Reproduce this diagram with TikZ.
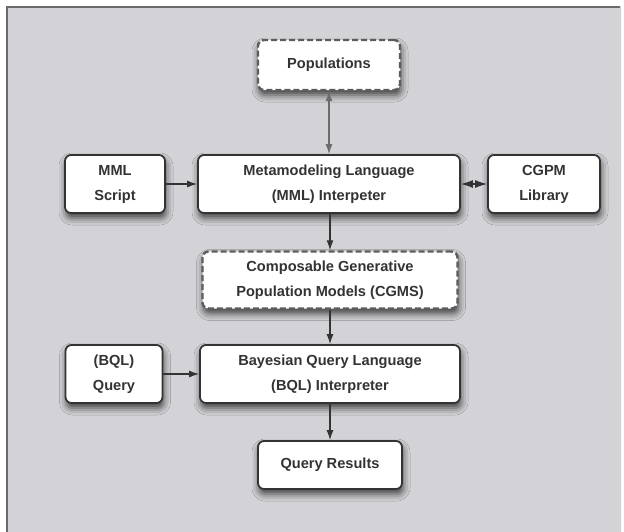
\documentclass[tikz,border=0pt]{standalone}
\usepackage{fontspec}
\setmainfont{Liberation Sans}
\usetikzlibrary{arrows.meta,shadows.blur}
\definecolor{panel}{HTML}{D3D3D7}
\definecolor{frameline}{HTML}{6A6A6C}
\definecolor{ink}{HTML}{333333}
\tikzset{
  box/.style={draw=ink, line width=1.8pt, rounded corners=6pt, fill=white,
    align=center, text=ink, font=\fontsize{14.6}{25}\selectfont\bfseries,
    inner sep=0pt,
    blur shadow={shadow xshift=1pt, shadow yshift=-5pt, shadow blur radius=7pt, shadow opacity=70}},
  dashbox/.style={box, draw=ink!80, dash pattern=on 6pt off 3pt, line width=2.4pt},
  flow/.style={draw=ink, line width=1.2pt, -{Latex[length=10pt,width=7pt]}},
  twoway/.style={draw=ink, line width=1.2pt, {Latex[length=12pt,width=8pt]}-{Latex[length=12pt,width=8pt]}},
  grayflow/.style={draw=gray!85!black, line width=1.2pt, {Latex[length=10pt,width=7pt]}-{Latex[length=10pt,width=7pt]}}
}
\begin{document}
\begin{tikzpicture}[x=1pt,y=-1pt]
  % page and framed panel
  \useasboundingbox (0,0) rectangle (624,531);
  \fill[white] (0,0) rectangle (624,531);
  \fill[panel] (6,6) rectangle (621,540);
  \draw[frameline, line width=2.5pt] (7,540) -- (7,7) -- (620,7);
  \draw[white!85!panel, line width=1pt] (621,7) -- (621,540);

  % nodes
  \node[dashbox, minimum width=142pt, minimum height=50pt] (pop) at (329,65) {Populations};
  \node[box, minimum width=100pt, minimum height=58pt] (mmls) at (115,184) {MML\\Script};
  \node[box, minimum width=262pt, minimum height=58pt] (mmli) at (329,184) {Metamodeling Language\\(MML) Interpeter};
  \node[box, minimum width=112pt, minimum height=58pt] (cgpm) at (544,184) {CGPM\\Library};
  \node[dashbox, minimum width=255pt, minimum height=57pt] (cgms) at (330,280) {Composable Generative\\Population Models (CGMS)};
  \node[box, minimum width=97pt, minimum height=58pt] (bqlq) at (114,374) {(BQL)\\Query};
  \node[box, minimum width=260pt, minimum height=58pt] (bqli) at (330,374) {Bayesian Query Language\\(BQL) Interpreter};
  \node[box, minimum width=144pt, minimum height=48pt] (qr) at (330,465) {Query Results};

  % connectors
  \draw[grayflow] (pop.south) -- (pop.south |- mmli.north);
  \draw[flow] (mmls) -- (mmli);
  \draw[twoway] (mmli.east) -- (cgpm.west);
  \draw[flow] (mmli.south -| cgms.north) -- (cgms.north);
  \draw[flow] (cgms.south) -- (cgms.south |- bqli.north);
  \draw[flow] (bqlq) -- (bqli);
  \draw[flow] (bqli.south) -- (qr.north);
\end{tikzpicture}
\end{document}
